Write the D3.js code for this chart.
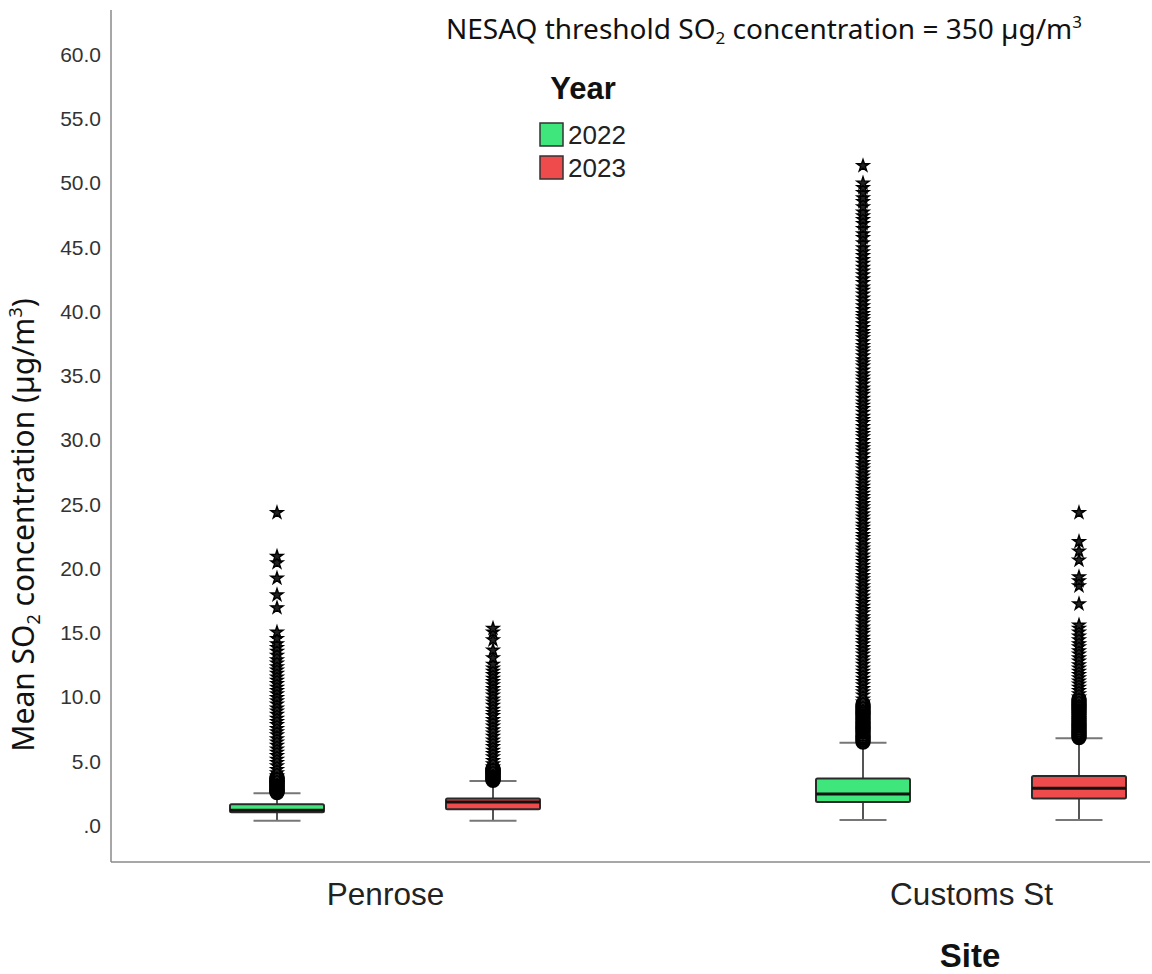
<!DOCTYPE html>
<html>
<head>
<meta charset="utf-8">
<script src="https://cdn.jsdelivr.net/npm/d3@7"></script>
<style>
  body { margin: 0; background: #fff; }
  svg { display: block; }
</style>
</head>
<body>
<svg id="chart" width="1152" height="974"></svg>
<script>
// ---------------- DATA ----------------
const sites = ["Penrose", "Customs St"];
const years = ["2022", "2023"];
const yTicks = [0, 5, 10, 15, 20, 25, 30, 35, 40, 45, 50, 55, 60];

// box statistics, one value per site (Penrose, Customs St)
const lowWhisker2022 = [0.33, 0.39];
const q1_2022        = [1.00, 1.79];
const median2022     = [1.15, 2.41];
const q3_2022        = [1.62, 3.62];
const highWhisker2022 = [2.47, 6.40];

const lowWhisker2023 = [0.33, 0.39];
const q1_2023        = [1.22, 2.06];
const median2023     = [1.79, 2.86];
const q3_2023        = [2.06, 3.81];
const highWhisker2023 = [3.42, 6.75];

// outliers (circles = outliers, stars = extreme values)
const penrose2022Out = [2.52, 2.6, 2.69, 2.77, 2.86, 2.95, 3.04, 3.12, 3.21, 3.3, 3.38, 3.47, 3.56, 3.64, 3.72];
const penrose2022Ext = [3.8, 4.05, 4.3, 4.6, 4.85, 5.1, 5.4, 5.65, 5.9, 6.2, 6.45, 6.7, 7.0, 7.25, 7.5, 7.8, 8.05, 8.3, 8.6, 8.85,
  9.1, 9.4, 9.65, 9.9, 10.2, 10.45, 10.7, 11.0, 11.25, 11.5, 11.8, 12.05, 12.3, 12.6, 12.85, 13.2, 13.5, 13.8, 14.1, 14.5,
  15.0, 16.9, 17.9, 19.2, 20.4, 20.9, 24.3];

const penrose2023Out = [3.47, 3.55, 3.63, 3.72, 3.8, 3.89, 3.97, 4.06, 4.14, 4.23, 4.31, 4.4];
const penrose2023Ext = [4.5, 4.75, 5.0, 5.3, 5.55, 5.8, 6.1, 6.35, 6.6, 6.9, 7.15, 7.4, 7.7, 7.95, 8.2, 8.5, 8.75, 9.0, 9.3, 9.55,
  9.8, 10.1, 10.35, 10.6, 10.9, 11.15, 11.4, 11.7, 11.95, 12.2, 12.5, 13.0, 13.6, 14.4, 15.0, 15.3];

const customs2022Out = [6.46, 6.62, 6.77, 6.9, 7.05, 7.21, 7.34, 7.5, 7.63, 7.79, 7.93, 8.08, 8.22, 8.37, 8.51, 8.66, 8.8, 8.95, 9.1, 9.24, 9.4];
const customs2022Ext = [9.55, 9.8, 10.1, 10.35, 10.6, 10.9, 11.15, 11.4, 11.7, 11.95, 12.2, 12.5, 12.75, 13.0, 13.3, 13.55, 13.8,
  14.1, 14.35, 14.6, 14.9, 15.15, 15.4, 15.7, 15.95, 16.2, 16.5, 16.75, 17.0, 17.3, 17.55, 17.8, 18.1, 18.35, 18.6, 18.9,
  19.15, 19.4, 19.7, 19.95, 20.2, 20.5, 20.75, 21.0, 21.3, 21.55, 21.8, 22.1, 22.35, 22.6, 22.9, 23.15, 23.4, 23.7, 23.95,
  24.2, 24.5, 24.75, 25.0, 25.3, 25.55, 25.8, 26.1, 26.35, 26.6, 26.9, 27.15, 27.4, 27.7, 27.95, 28.2, 28.5, 28.8, 29.1,
  29.35, 29.6, 29.9, 30.2, 30.45, 30.7, 31.0, 31.3, 31.55, 31.8, 32.1, 32.4, 32.65, 32.9, 33.2, 33.5, 33.75, 34.0, 34.3,
  34.6, 34.85, 35.1, 35.4, 35.7, 35.95, 36.2, 36.5, 36.8, 37.05, 37.3, 37.6, 37.9, 38.15, 38.4, 38.7, 39.0, 39.3, 39.55,
  39.8, 40.1, 40.4, 40.7, 41.0, 41.3, 41.6, 41.85, 42.2, 42.5, 42.8, 43.1, 43.4, 43.7, 44.0, 44.3, 44.6, 44.9, 45.3,
  45.7, 46.0, 46.4, 46.8, 47.1, 47.4, 47.7, 48.1, 48.5, 48.8, 49.2, 49.6, 49.95, 51.3];

const customs2023Out = [6.8, 6.95, 7.1, 7.25, 7.4, 7.55, 7.7, 7.85, 8.0, 8.15, 8.3, 8.45, 8.6, 8.75, 8.9, 9.05, 9.2, 9.35, 9.5, 9.65, 9.8];
const customs2023Ext = [9.95, 10.2, 10.45, 10.7, 10.95, 11.2, 11.45, 11.7, 11.95, 12.2, 12.45, 12.75, 13.0, 13.3, 13.55, 13.85,
  14.1, 14.4, 14.7, 15.0, 15.3, 15.55, 17.2, 18.6, 19.0, 19.3, 20.6, 21.3, 22.05, 24.3];

const outliers2022 = [penrose2022Out, customs2022Out];
const extremes2022 = [penrose2022Ext, customs2022Ext];
const outliers2023 = [penrose2023Out, customs2023Out];
const extremes2023 = [penrose2023Ext, customs2023Ext];

const colors = { "2022": "#3fe67b", "2023": "#ef4b4c" };

// --------------- BUILD ----------------
const series = {
  "2022": sites.map((s, i) => ({ site: s, lo: lowWhisker2022[i], q1: q1_2022[i], med: median2022[i], q3: q3_2022[i], hi: highWhisker2022[i], out: outliers2022[i], ext: extremes2022[i] })),
  "2023": sites.map((s, i) => ({ site: s, lo: lowWhisker2023[i], q1: q1_2023[i], med: median2023[i], q3: q3_2023[i], hi: highWhisker2023[i], out: outliers2023[i], ext: extremes2023[i] }))
};

const svg = d3.select("#chart");
const axisLeftX = 111, axisTop = 10, axisBottomY = 862, axisRight = 1150;

const y = d3.scaleLinear().domain([0, 60]).range([825, 54]);
const x = d3.scalePoint().domain(sites).range([385, 971]);
const xi = d3.scaleBand().domain(years).range([-216, 216]);
const boxW = 94, capW = 47;

// axes lines
svg.append("line").attr("x1", axisLeftX).attr("x2", axisLeftX).attr("y1", axisTop).attr("y2", axisBottomY)
  .attr("stroke", "#8a8a8a").attr("stroke-width", 1.5);
svg.append("line").attr("x1", axisLeftX).attr("x2", axisRight).attr("y1", axisBottomY).attr("y2", axisBottomY)
  .attr("stroke", "#8a8a8a").attr("stroke-width", 1.5);

// y axis ticks (labels only)
const yAxis = d3.axisLeft(y).tickValues(yTicks).tickSize(0).tickPadding(0)
  .tickFormat(d => d === 0 ? ".0" : d3.format(".1f")(d));
const gy = svg.append("g").attr("transform", `translate(${axisLeftX - 10},0)`).call(yAxis);
gy.select(".domain").remove();
gy.selectAll("text").attr("font-family", "Liberation Sans, Arial, sans-serif").attr("font-size", 21)
  .attr("fill", "#333").attr("dy", "0.35em");

// x axis labels
const xAxis = d3.axisBottom(x).tickSize(0).tickPadding(0);
const gx = svg.append("g").attr("transform", `translate(0,${axisBottomY + 21})`).call(xAxis);
gx.select(".domain").remove();
gx.selectAll("text").attr("font-family", "Liberation Sans, Arial, sans-serif").attr("font-size", 31.5)
  .attr("fill", "#222").attr("dy", "0.71em");

// axis titles
svg.append("text").attr("x", 970).attr("y", 967).attr("text-anchor", "middle")
  .attr("font-family", "Liberation Sans, Arial, sans-serif").attr("font-weight", "bold").attr("font-size", 33)
  .attr("fill", "#111").text("Site");

const yl = svg.append("text").attr("transform", "translate(34,525) rotate(-90)").attr("text-anchor", "middle")
  .attr("font-family", "Noto Sans, sans-serif").attr("font-size", 30).attr("fill", "#111");
yl.append("tspan").text("Mean SO");
yl.append("tspan").attr("font-size", 18).attr("dy", 6).text("2");
yl.append("tspan").attr("dy", -6).text(" concentration (µg/m");
yl.append("tspan").attr("font-size", 18).attr("dy", -12).text("3");
yl.append("tspan").attr("dy", 12).text(")");

// title
const t = svg.append("text").attr("x", 764).attr("y", 39).attr("text-anchor", "middle")
  .attr("font-family", "Noto Sans, sans-serif").attr("font-size", 28).attr("fill", "#111");
t.append("tspan").text("NESAQ threshold SO");
t.append("tspan").attr("font-size", 17).attr("dy", 5).text("2");
t.append("tspan").attr("dy", -5).text(" concentration = 350 µg/m");
t.append("tspan").attr("font-size", 17).attr("dy", -11).text("3");

// legend
svg.append("text").attr("x", 583).attr("y", 99).attr("text-anchor", "middle")
  .attr("font-family", "Liberation Sans, Arial, sans-serif").attr("font-weight", "bold").attr("font-size", 31)
  .attr("fill", "#111").text("Year");
const lg = svg.append("g").selectAll("g").data(years).join("g")
  .attr("transform", (d, i) => `translate(540,${123 + i * 33})`);
lg.append("rect").attr("width", 23).attr("height", 23).attr("fill", d => colors[d])
  .attr("stroke", "#333").attr("stroke-width", 1.5);
lg.append("text").attr("x", 28).attr("y", 12).attr("dy", "0.36em")
  .attr("font-family", "Liberation Sans, Arial, sans-serif").attr("font-size", 26).attr("fill", "#222").text(d => d);

// boxes
const star = d3.symbol().type(d3.symbolStar).size(46);
years.forEach(yr => {
  const g = svg.append("g");
  const data = series[yr];
  const cx = d => x(d.site) + xi(yr) + xi.bandwidth() / 2;

  // whiskers
  g.selectAll("line.stem").data(data).join("line").attr("class", "stem")
    .attr("x1", cx).attr("x2", cx).attr("y1", d => y(d.lo)).attr("y2", d => y(d.hi))
    .attr("stroke", "#555").attr("stroke-width", 2);
  g.selectAll("line.capHi").data(data).join("line").attr("class", "capHi")
    .attr("x1", d => cx(d) - capW / 2).attr("x2", d => cx(d) + capW / 2)
    .attr("y1", d => y(d.hi)).attr("y2", d => y(d.hi)).attr("stroke", "#777").attr("stroke-width", 2);
  g.selectAll("line.capLo").data(data).join("line").attr("class", "capLo")
    .attr("x1", d => cx(d) - capW / 2).attr("x2", d => cx(d) + capW / 2)
    .attr("y1", d => y(d.lo)).attr("y2", d => y(d.lo)).attr("stroke", "#777").attr("stroke-width", 2);

  // outliers (circles) and extreme values (stars)
  data.forEach(d => {
    g.append("g").selectAll("circle").data(d.out).join("circle")
      .attr("cx", cx(d)).attr("cy", v => y(v)).attr("r", 6.5)
      .attr("fill", "none").attr("stroke", "#000").attr("stroke-width", 2.4);
    g.append("g").selectAll("path").data(d.ext).join("path")
      .attr("transform", v => `translate(${cx(d)},${y(v)})`).attr("d", star)
      .attr("fill", "#222").attr("stroke", "#000").attr("stroke-width", 1.4);
  });

  // box
  g.selectAll("rect.box").data(data).join("rect").attr("class", "box")
    .attr("x", d => cx(d) - boxW / 2).attr("width", boxW)
    .attr("y", d => y(d.q3)).attr("height", d => y(d.q1) - y(d.q3))
    .attr("rx", 1.5).attr("fill", colors[yr]).attr("stroke", "#2a2a2a").attr("stroke-width", 2);
  g.selectAll("line.med").data(data).join("line").attr("class", "med")
    .attr("x1", d => cx(d) - boxW / 2).attr("x2", d => cx(d) + boxW / 2)
    .attr("y1", d => y(d.med)).attr("y2", d => y(d.med)).attr("stroke", "#111").attr("stroke-width", 3);
});
</script>
</body>
</html>
